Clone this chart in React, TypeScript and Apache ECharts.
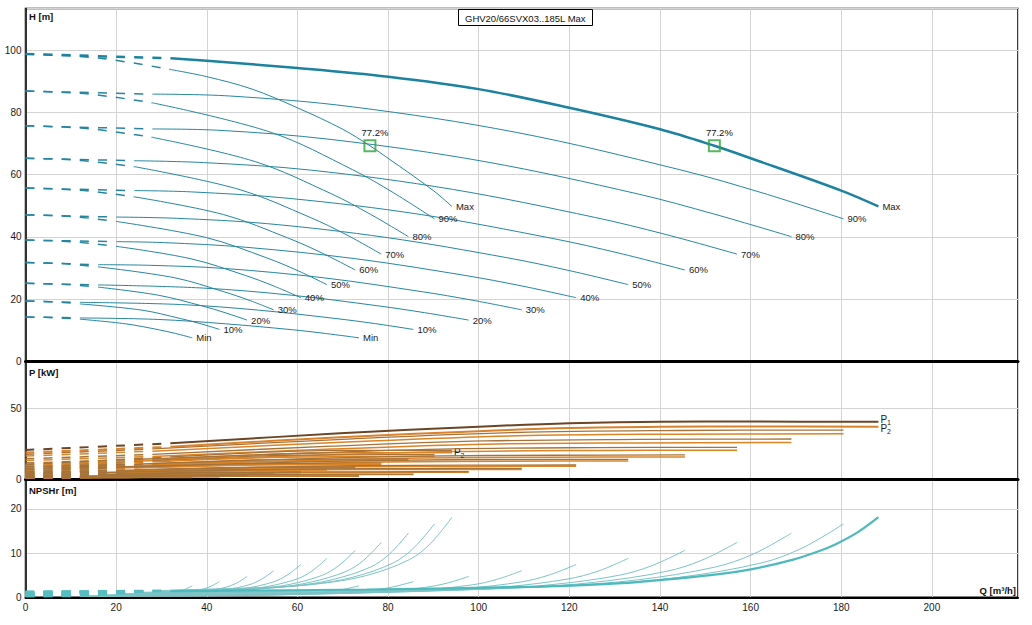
import { useEffect, useRef } from "react";
import * as echarts from "echarts";

type Pt = [number, number];

const FONT = '"Liberation Sans", Arial, sans-serif';

// speed levels, from the slowest to the fastest curve
const levels = ["Min", "10%", "20%", "30%", "40%", "50%", "60%", "70%", "80%", "90%", "Max"];
// minimum flow of each level (m³/h): the curves are dashed below it
const minFlow = [12, 12, 16, 16, 20, 20, 24, 24, 28, 28, 32];

// H [m] against Q [m³/h], two pumps in parallel
const headTwin: Pt[][] = [
  [[0, 14.3], [12, 14.0], [29.4, 13.5], [44.2, 12.1], [58.9, 10.2], [66.2, 9.0], [73.6, 7.6]],
  [[0, 19.4], [12, 19.0], [34.2, 18.3], [51.4, 16.5], [68.5, 13.8], [77, 12.2], [85.6, 10.3]],
  [[0, 25.1], [16, 24.6], [39.1, 23.6], [58.7, 21.3], [78.2, 17.8], [88, 15.7], [97.8, 13.3]],
  [[0, 31.8], [16, 31.1], [27.4, 30.9], [43.8, 29.9], [65.7, 26.9], [87.6, 22.4], [98.6, 19.7], [109.5, 16.6]],
  [[0, 39.0], [20, 38.5], [30.4, 38.2], [48.6, 36.7], [72.9, 33.0], [97.2, 27.6], [109.4, 24.3], [121.5, 20.5]],
  [[0, 47.1], [20, 46.4], [33.3, 46.0], [53.2, 44.3], [79.8, 39.8], [106.4, 33.3], [119.7, 29.3], [133, 24.7]],
  [[0, 55.7], [24, 54.9], [36.4, 54.5], [58.2, 52.4], [87.3, 47.2], [116.4, 39.5], [131, 34.8], [145.5, 29.4]],
  [[0, 65.3], [24, 64.5], [39.3, 63.9], [62.8, 61.5], [94.2, 55.3], [125.6, 46.3], [141.3, 40.8], [157, 34.5]],
  [[0, 75.7], [28, 74.7], [42.3, 74.3], [67.6, 71.3], [101.4, 64.2], [135.2, 53.8], [152.1, 47.3], [169, 40.1]],
  [[0, 86.9], [28, 85.9], [45, 85.3], [72.2, 81.8], [108.3, 73.6], [144.4, 61.6], [162.5, 54.2], [180.5, 45.8]],
  [[0, 98.8], [32, 97.4], [40, 96.6], [60, 94.3], [80, 91.5], [100, 87.5], [120, 81.5], [140, 74.6], [152, 69.3], [160, 65.3], [180, 54.9], [188.2, 49.8]],
];

// H, one pump
const headSingle: Pt[][] = [
  [[0, 14.3], [6, 14.1], [12, 13.6], [22.1, 12.1], [29.4, 10.2], [33.1, 9.0], [36.8, 7.6]],
  [[0, 19.4], [6, 19.2], [12, 18.5], [25.7, 16.5], [34.2, 13.8], [38.5, 12.2], [42.8, 10.3]],
  [[0, 25.1], [8, 24.8], [16, 23.9], [29.3, 21.3], [39.1, 17.8], [44, 15.7], [48.9, 13.3]],
  [[0, 31.8], [8, 31.45], [16, 30.4], [32.9, 26.9], [43.8, 22.4], [49.3, 19.7], [54.75, 16.6]],
  [[0, 39.0], [10, 38.5], [20, 37.0], [36.5, 33.0], [48.6, 27.6], [54.7, 24.3], [60.75, 20.5]],
  [[0, 47.1], [10, 46.6], [20, 45.0], [39.9, 39.8], [53.2, 33.3], [59.9, 29.3], [66.5, 24.7]],
  [[0, 55.7], [12, 55.0], [24, 52.9], [43.7, 47.2], [58.2, 39.5], [65.5, 34.8], [72.75, 29.4]],
  [[0, 65.3], [12, 64.6], [24, 62.6], [47.1, 55.3], [62.8, 46.3], [70.7, 40.8], [78.5, 34.5]],
  [[0, 75.7], [14, 74.8], [28, 72.0], [50.7, 64.2], [67.6, 53.8], [76.1, 47.3], [84.5, 40.1]],
  [[0, 86.9], [14, 85.9], [28, 83.1], [54.2, 73.6], [72.2, 61.6], [81.2, 54.2], [90.25, 45.8]],
  [[0, 98.8], [16, 97.5], [32, 93.8], [40, 91.5], [50, 87.5], [60, 81.5], [70, 74.6], [76, 69.3], [80, 65.3], [90, 54.9], [94.1, 49.8]],
];

// best efficiency points
const bepQ = [76, 152];
const bepH = [69.3, 69.3];
const bepEta = ["77.2%", "77.2%"];

// P1 [kW], two pumps
const p1Twin: Pt[][] = [
  [[0, 1.1], [12, 1.35], [29.4, 1.8], [44.2, 2.1], [58.9, 2.2], [73.6, 2.2]],
  [[0, 1.7], [12, 2.1], [34.2, 2.8], [51.4, 3.2], [68.5, 3.4], [85.6, 3.4]],
  [[0, 2.6], [16, 3.2], [39.1, 4.3], [58.7, 5.0], [78.2, 5.1], [97.8, 5.2]],
  [[0, 3.8], [16, 4.6], [43.8, 6.2], [65.7, 7.1], [87.6, 7.4], [109.5, 7.5]],
  [[0, 5.0], [20, 6.1], [48.6, 8.1], [72.9, 9.4], [97.2, 9.8], [121.5, 9.9]],
  [[0, 7.0], [20, 8.5], [53.2, 11.4], [79.8, 13.2], [106.4, 13.8], [133, 13.9]],
  [[0, 8.6], [24, 10.5], [58.2, 14.0], [87.3, 16.2], [116.4, 16.8], [145.5, 17.0]],
  [[0, 11.3], [24, 13.8], [62.8, 18.4], [94.2, 21.3], [125.6, 22.2], [157, 22.4]],
  [[0, 14.3], [28, 17.4], [67.6, 23.2], [101.4, 26.9], [135.2, 28.0], [169, 28.3]],
  [[0, 17.5], [28, 21.3], [72.2, 28.4], [108.3, 32.9], [144.4, 34.3], [180.5, 34.6]],
  [[0, 20.5], [32, 25.2], [69.4, 32.3], [100, 37.0], [120, 39.4], [140, 40.5], [160, 40.6], [188.2, 40.5]],
];

// P2 [kW], two pumps
const p2Twin: Pt[][] = [
  [[0, 1.0], [12, 1.2], [29.4, 1.6], [44.2, 1.9], [58.9, 2.0], [73.6, 2.0]],
  [[0, 1.6], [12, 1.9], [34.2, 2.5], [51.4, 3.0], [68.5, 3.1], [85.6, 3.1]],
  [[0, 2.4], [16, 2.9], [39.1, 3.9], [58.7, 4.5], [78.2, 4.7], [97.8, 4.7]],
  [[0, 3.4], [16, 4.2], [43.8, 5.6], [65.7, 6.5], [87.6, 6.7], [109.5, 6.8]],
  [[0, 4.6], [20, 5.5], [48.6, 7.4], [72.9, 8.6], [97.2, 8.9], [121.5, 9.0]],
  [[0, 6.4], [20, 7.8], [53.2, 10.4], [79.8, 12.1], [106.4, 12.6], [133, 12.7]],
  [[0, 7.9], [24, 9.6], [58.2, 12.8], [87.3, 14.9], [116.4, 15.4], [145.5, 15.6]],
  [[0, 10.3], [24, 12.5], [62.8, 16.7], [94.2, 19.4], [125.6, 20.2], [157, 20.4]],
  [[0, 13.1], [28, 15.9], [67.6, 21.2], [101.4, 24.6], [135.2, 25.5], [169, 25.8]],
  [[0, 16.2], [28, 19.7], [72.2, 26.3], [108.3, 30.5], [144.4, 31.7], [180.5, 32.0]],
  [[0, 18.7], [32, 22.8], [69.4, 29.5], [100, 33.8], [120, 36.0], [140, 36.9], [160, 37.1], [188.2, 37.0]],
];

// P1 [kW], one pump
const p1Single: Pt[][] = [
  [[0, 0.56], [12, 0.84], [22.1, 1.05], [29.4, 1.09], [36.8, 1.1]],
  [[0, 0.86], [12, 1.3], [25.7, 1.6], [34.2, 1.68], [42.8, 1.7]],
  [[0, 1.3], [16, 2.0], [29.3, 2.5], [39.1, 2.57], [48.9, 2.6]],
  [[0, 1.9], [16, 2.85], [32.9, 3.6], [43.8, 3.7], [54.75, 3.75]],
  [[0, 2.5], [20, 3.8], [36.5, 4.7], [48.6, 4.9], [60.75, 4.95]],
  [[0, 3.5], [20, 5.3], [39.9, 6.6], [53.2, 6.9], [66.5, 6.95]],
  [[0, 4.3], [24, 6.5], [43.7, 8.1], [58.2, 8.4], [72.75, 8.5]],
  [[0, 5.65], [24, 8.5], [47.1, 10.7], [62.8, 11.1], [78.5, 11.2]],
  [[0, 7.15], [28, 10.8], [50.7, 13.5], [67.6, 14.0], [84.5, 14.15]],
  [[0, 8.75], [28, 13.1], [54.2, 16.5], [72.2, 17.1], [90.25, 17.3]],
  [[0, 10.25], [32, 15.6], [50, 18.5], [60, 19.7], [70, 20.25], [80, 20.3], [94.1, 20.25]],
];

// P2 [kW], one pump
const p2Single: Pt[][] = [
  [[0, 0.5], [12, 0.76], [22.1, 0.95], [29.4, 0.99], [36.8, 1.0]],
  [[0, 0.78], [12, 1.2], [25.7, 1.48], [34.2, 1.53], [42.8, 1.55]],
  [[0, 1.2], [16, 1.8], [29.3, 2.2], [39.1, 2.3], [48.9, 2.35]],
  [[0, 1.7], [16, 2.6], [32.9, 3.2], [43.8, 3.37], [54.75, 3.4]],
  [[0, 2.3], [20, 3.4], [36.5, 4.3], [48.6, 4.45], [60.75, 4.5]],
  [[0, 3.2], [20, 4.8], [39.9, 6.0], [53.2, 6.3], [66.5, 6.35]],
  [[0, 3.95], [24, 5.9], [43.7, 7.4], [58.2, 7.7], [72.75, 7.8]],
  [[0, 5.2], [24, 7.75], [47.1, 9.7], [62.8, 10.1], [78.5, 10.2]],
  [[0, 6.5], [28, 9.8], [50.7, 12.3], [67.6, 12.8], [84.5, 12.9]],
  [[0, 8.1], [28, 12.2], [54.2, 15.2], [72.2, 15.8], [90.25, 16.0]],
  [[0, 9.35], [32, 14.2], [50, 16.9], [60, 18.0], [70, 18.5], [80, 18.55], [94.1, 18.5]],
];

// NPSHr [m], two pumps
const npshTwin: Pt[][] = [
  [[0, 0.19], [12, 0.2], [29.4, 0.25], [44.2, 0.35], [51.5, 0.46], [58.9, 0.71], [66.2, 1.22], [69.9, 1.75], [73.6, 2.6]],
  [[0, 0.26], [12, 0.28], [34.2, 0.34], [51.4, 0.47], [59.9, 0.63], [68.5, 0.97], [77, 1.67], [81.3, 2.39], [85.6, 3.55]],
  [[0, 0.34], [16, 0.37], [39.1, 0.46], [58.7, 0.63], [68.5, 0.83], [78.2, 1.28], [88, 2.21], [92.9, 3.17], [97.8, 4.7]],
  [[0, 0.43], [16, 0.47], [43.8, 0.58], [65.7, 0.8], [76.7, 1.06], [87.6, 1.64], [98.6, 2.82], [104, 4.04], [109.5, 6.0]],
  [[0, 0.53], [20, 0.58], [48.6, 0.72], [72.9, 0.98], [85.1, 1.31], [97.2, 2.02], [109.4, 3.48], [115.4, 4.99], [121.5, 7.4]],
  [[0, 0.63], [20, 0.69], [53.2, 0.85], [79.8, 1.17], [93.1, 1.56], [106.4, 2.4], [119.7, 4.14], [126.4, 5.93], [133, 8.8]],
  [[0, 0.76], [24, 0.83], [58.2, 1.03], [87.3, 1.41], [101.9, 1.88], [116.4, 2.89], [131, 4.98], [138.2, 7.14], [145.5, 10.6]],
  [[0, 0.89], [24, 0.97], [62.8, 1.2], [94.2, 1.65], [109.9, 2.19], [125.6, 3.39], [141.3, 5.83], [149.2, 8.36], [157, 12.4]],
  [[0, 1.04], [28, 1.13], [67.6, 1.41], [101.4, 1.93], [118.3, 2.57], [135.2, 3.96], [152.1, 6.82], [160.6, 9.77], [169, 14.5]],
  [[0, 1.2], [28, 1.29], [72.2, 1.61], [108.3, 2.21], [126.4, 2.94], [144.4, 4.53], [162.5, 7.8], [171.5, 11.19], [180.5, 16.6]],
  [[0, 1.3], [32, 1.41], [75.3, 1.76], [112.9, 2.41], [131.7, 3.2], [140, 3.9], [150.6, 4.94], [160, 6.3], [169.4, 8.5], [175, 10.4], [178.8, 12.0], [183.5, 14.6], [188.2, 18.1]],
];

// NPSHr [m], one pump
const npshSingle: Pt[][] = [
  [[0, 0.19], [12, 0.24], [22.1, 0.35], [25.8, 0.46], [29.4, 0.71], [33.1, 1.22], [35, 1.75], [36.8, 2.6]],
  [[0, 0.26], [12, 0.32], [25.7, 0.47], [30, 0.63], [34.2, 0.97], [38.5, 1.67], [40.7, 2.39], [42.8, 3.55]],
  [[0, 0.34], [16, 0.42], [29.3, 0.63], [34.2, 0.83], [39.1, 1.28], [44, 2.21], [46.5, 3.17], [48.9, 4.7]],
  [[0, 0.43], [16, 0.53], [32.9, 0.8], [38.3, 1.06], [43.8, 1.64], [49.3, 2.82], [52, 4.04], [54.75, 6.0]],
  [[0, 0.53], [20, 0.66], [36.5, 0.98], [42.5, 1.31], [48.6, 2.02], [54.7, 3.48], [57.7, 4.99], [60.75, 7.4]],
  [[0, 0.63], [20, 0.78], [39.9, 1.17], [46.6, 1.56], [53.2, 2.4], [59.9, 4.14], [63.2, 5.93], [66.5, 8.8]],
  [[0, 0.76], [24, 0.95], [43.7, 1.41], [50.9, 1.88], [58.2, 2.89], [65.5, 4.98], [69.1, 7.14], [72.75, 10.6]],
  [[0, 0.89], [24, 1.1], [47.1, 1.65], [55, 2.19], [62.8, 3.39], [70.7, 5.83], [74.6, 8.36], [78.5, 12.4]],
  [[0, 1.04], [28, 1.3], [50.7, 1.93], [59.2, 2.57], [67.6, 3.96], [76.1, 6.82], [80.3, 9.77], [84.5, 14.5]],
  [[0, 1.2], [28, 1.48], [54.2, 2.21], [63.2, 2.94], [72.2, 4.53], [81.2, 7.8], [85.7, 11.19], [90.25, 16.6]],
  [[0, 1.3], [32, 1.62], [56.5, 2.41], [65.9, 3.2], [75.3, 4.94], [84.7, 8.51], [89.4, 12.2], [94.1, 18.1]],
];

const H_COLOR = "#2686a0";
const H_MAX = "#1c82a0";
const P1_COLOR = "#a5733a";
const P2_COLOR = "#dc8424";
const P1_MAX = "#6b4524";
const P2_MAX = "#d9822a";
const N_COLOR = "#7cc3c5";
const N_MAX = "#4cb9bd";
const N_DASH = "#56bec1";
const LABEL_SIZE = 9.5;

const textLabel = (text: string) => ({
  show: true,
  formatter: text,
  distance: 4,
  color: "#1a1a1a",
  fontSize: LABEL_SIZE,
  fontFamily: FONT,
});

const subLabel = (n: string, dy: number) => ({
  show: true,
  formatter: `{p|P}{s|${n}}`,
  distance: 2,
  offset: [0, dy],
  rich: {
    p: { fontSize: 10, color: "#1a1a1a", fontFamily: FONT },
    s: { fontSize: 7, color: "#1a1a1a", fontFamily: FONT, padding: [6, 0, 0, 0] },
  },
});

function buildSeries() {
  const series: any[] = [];
  const addCurve = (
    curve: Pt[],
    qMin: number,
    axis: number,
    color: string,
    width: number,
    z: number,
    label?: any,
    dashColor?: string
  ) => {
    const dash = curve.filter((p) => p[0] <= qMin);
    const solid = curve.filter((p) => p[0] >= qMin);
    const base = {
      type: "line",
      xAxisIndex: axis,
      yAxisIndex: axis,
      symbol: "none",
      smooth: 0.35,
      silent: true,
      z,
    };
    series.push({
      ...base,
      data: dash,
      lineStyle: { color: dashColor || color, width: Math.max(width, 1.5), type: [9, 9.1] },
    });
    series.push({
      ...base,
      data: solid,
      lineStyle: { color, width },
      endLabel: label || { show: false },
    });
  };

  const maxIdx = levels.length - 1;
  levels.forEach((name, i) => {
    const isMax = i === maxIdx;
    // power
    addCurve(p2Single[i], minFlow[i], 1, P2_COLOR, 1.5, 2, isMax ? subLabel("2", 0) : undefined);
    addCurve(p1Single[i], minFlow[i], 1, P1_COLOR, 1.3, 2);
    addCurve(p2Twin[i], minFlow[i], 1, isMax ? P2_MAX : P2_COLOR, isMax ? 2 : 1.5, isMax ? 4 : 2, isMax ? subLabel("2", 1.5) : undefined);
    addCurve(p1Twin[i], minFlow[i], 1, isMax ? P1_MAX : P1_COLOR, isMax ? 2 : 1.3, isMax ? 5 : 3, isMax ? subLabel("1", -2.5) : undefined);
    // npsh
    addCurve(npshSingle[i], minFlow[i], 2, N_COLOR, 1, 2, undefined, N_DASH);
    addCurve(npshTwin[i], minFlow[i], 2, isMax ? N_MAX : N_COLOR, isMax ? 2.2 : 1, isMax ? 4 : 2, undefined, N_DASH);
    // head
    addCurve(headSingle[i], minFlow[i], 0, H_COLOR, 1, 2, textLabel(name));
    addCurve(headTwin[i], minFlow[i], 0, isMax ? H_MAX : H_COLOR, isMax ? 2.5 : 1, isMax ? 4 : 2, textLabel(name));
  });

  series.push({
    type: "scatter",
    xAxisIndex: 0,
    yAxisIndex: 0,
    data: bepQ.map((q, k) => [q, bepH[k]]),
    symbol: "rect",
    symbolSize: 11,
    silent: true,
    z: 10,
    itemStyle: { color: "rgba(255,255,255,0)", borderColor: "#2ea63a", borderWidth: 2 },
    label: {
      show: true,
      position: "top",
      distance: 2,
      offset: [5, 0],
      color: "#111",
      opacity: 1,
      textBorderWidth: 0,
      fontSize: LABEL_SIZE,
      fontFamily: FONT,
      formatter: (p: any) => bepEta[p.dataIndex],
    },
  });
  return series;
}

const gridBox = { left: 25.5, right: 14 };

function xAxisFor(gridIndex: number, bottom: boolean, lineWidth: number) {
  return {
    type: "value",
    gridIndex,
    min: 0,
    max: 219,
    interval: 20,
    axisLine: { show: true, onZero: false, lineStyle: { color: "#000", width: lineWidth } },
    axisTick: { show: false },
    axisLabel: {
      show: bottom,
      showMaxLabel: false,
      margin: 5,
      color: "#1a1a1a",
      fontSize: 10,
      fontFamily: FONT,
    },
    splitLine: { show: true, lineStyle: { color: "#d3d3d3", width: 1 } },
  };
}

function yAxisFor(gridIndex: number, max: number, interval: number) {
  return {
    type: "value",
    gridIndex,
    min: 0,
    max,
    interval,
    axisLine: { show: true, lineStyle: { color: "#000", width: 1.5 } },
    axisTick: { show: false },
    axisLabel: {
      showMaxLabel: false,
      margin: 4,
      color: "#1a1a1a",
      fontSize: 10,
      fontFamily: FONT,
    },
    splitLine: { show: true, lineStyle: { color: "#d3d3d3", width: 1 } },
  };
}

const axisName = (text: string, left: number, top: number) => ({
  type: "text",
  left,
  top,
  z: 20,
  style: { text, font: `bold 9.5px ${FONT}`, fill: "#111" },
});

function App() {
  const chartRef = useRef<HTMLDivElement>(null);

  useEffect(() => {
    const chart = echarts.init(chartRef.current!, null, { renderer: "svg" });
    chart.setOption({
      animation: false,
      backgroundColor: "#fff",
      title: {
        text: "GHV20/66SVX03..185L Max",
        left: 458,
        top: 9,
        padding: [4, 7, 3, 7],
        borderColor: "#000",
        borderWidth: 1,
        backgroundColor: "#fff",
        textStyle: { fontSize: 9.5, fontWeight: "normal", color: "#111", fontFamily: FONT },
      },
      grid: [
        { ...gridBox, top: 8.5, height: 353, show: true, borderColor: "#000", borderWidth: 1.5 },
        { ...gridBox, top: 361.5, height: 117.5, show: true, borderColor: "#000", borderWidth: 1.5 },
        { ...gridBox, top: 480, height: 117.3, show: true, borderColor: "#000", borderWidth: 1.5 },
      ],
      xAxis: [xAxisFor(0, false, 3), xAxisFor(1, false, 3), xAxisFor(2, true, 2)],
      yAxis: [yAxisFor(0, 113.4, 20), yAxisFor(1, 83.1, 50), yAxisFor(2, 26.5, 10)],
      graphic: [
        axisName("H [m]", 29, 11),
        axisName("P [kW]", 29, 367),
        axisName("NPSHr [m]", 29, 485),
        { ...axisName("Q [m³/h]", 0, 585), left: undefined, right: 16 },
      ],
      series: buildSeries(),
    });
    return () => {
      chart.dispose();
    };
  }, []);

  return (
    <div
      ref={chartRef}
      style={{ position: "absolute", left: 0, top: 0, width: 1032, height: 625, background: "#fff" }}
    />
  );
}

export default App;
